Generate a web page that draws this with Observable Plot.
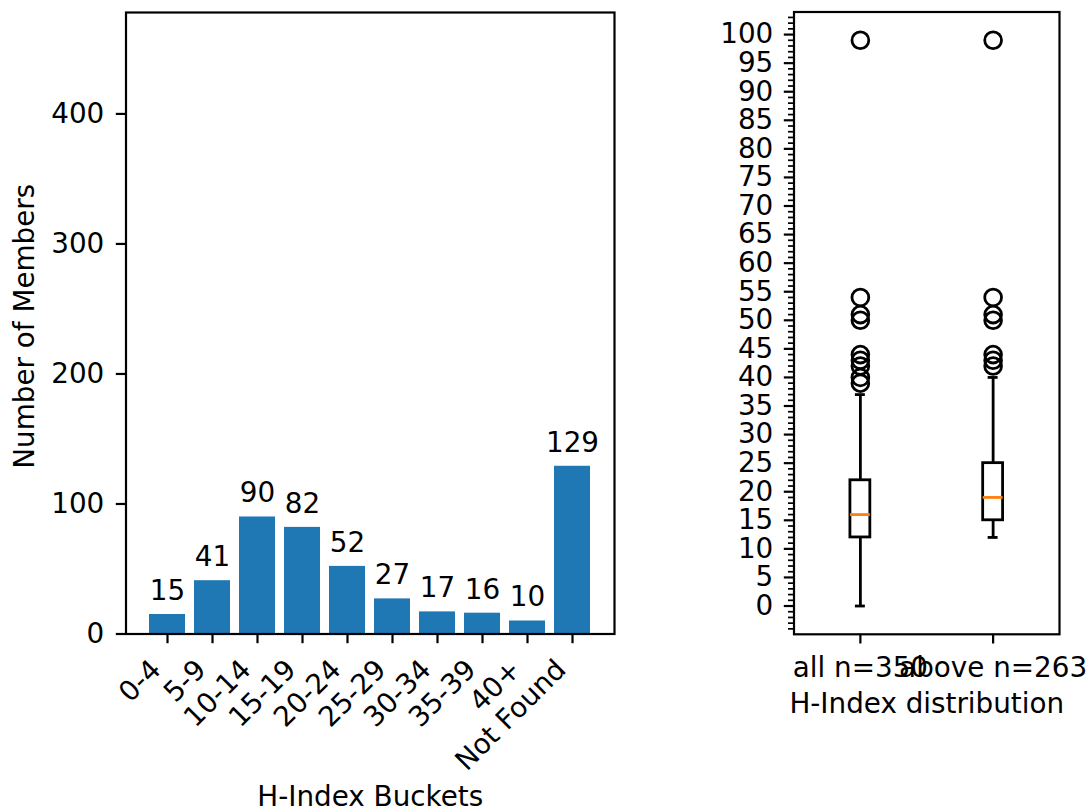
<!DOCTYPE html>
<html><head><meta charset="utf-8">
<script src="https://cdn.jsdelivr.net/npm/d3@7"></script>
<script src="https://cdn.jsdelivr.net/npm/@observablehq/plot@0.6"></script>
<style>
html,body{margin:0;padding:0;background:#fff;}
#wrap{position:relative;width:1090px;height:810px;overflow:hidden;background:#fff;}
#left{position:absolute;left:0;top:0;}
#right{position:absolute;left:700px;top:0;}
</style></head><body>
<div id="wrap"><div id="left"></div><div id="right"></div></div>
<script>
// ---- data ----
const buckets = ["0-4","5-9","10-14","15-19","20-24","25-29","30-34","35-39","40+","Not Found"];
const counts = [15,41,90,82,52,27,17,16,10,129];
const leftYTicks = [0,100,200,300,400];

const boxLabels = ["all n=350","above n=263"];
const boxPositions = [1,2];
const boxQ1 = [12,15];
const boxMedian = [16,19];
const boxQ3 = [22,25];
const whiskerLow = [0,12];
const whiskerHigh = [37,40];
const outliersAll = [39,40,42,43,44,50,51,54,99];
const outliersAbove = [42,43,44,50,51,54,99];
const rightYTicks = [0,5,10,15,20,25,30,35,40,45,50,55,60,65,70,75,80,85,90,95,100];

// ---- styling ----
const FONT = "DejaVu Sans";
const FS = 27.8;
const SPINE = 2.2, TICK = 9.7, MINOR = 5.5, LW = 2.8;
const style = {fontFamily: FONT, fontSize: FS + "px", color: "black", background: "white", overflow: "visible"};

const bars = buckets.map((b, i) => ({bucket: b, count: counts[i]}));

const left = Plot.plot({
  width: 700, height: 810,
  marginLeft: 125.5, marginRight: 86, marginTop: 12, marginBottom: 176.5,
  style,
  x: {type: "band", domain: buckets, paddingInner: 0.2, paddingOuter: 0.49},
  y: {domain: [0, 478]},
  marks: [
    Plot.barY(bars, {x: "bucket", y: "count", fill: "#1f77b4"}),
    Plot.text(bars, {x: "bucket", y: "count", text: d => String(d.count), lineAnchor: "bottom", dy: -14.5, fill: "black"}),
    Plot.text(bars, {x: "bucket", text: "bucket", frameAnchor: "bottom", rotate: -45, textAnchor: "end", lineAnchor: "middle", dx: -11.4, dy: 31, fill: "black"}),
    Plot.axisX({tickSize: TICK, strokeWidth: SPINE, tickFormat: () => "", label: null}),
    Plot.axisY({ticks: leftYTicks, tickSize: TICK, tickPadding: 12, strokeWidth: SPINE, label: null}),
    Plot.frame({stroke: "black", strokeWidth: SPINE}),
    Plot.text(["Number of Members"], {frameAnchor: "left", rotate: -90, textAnchor: "middle", lineAnchor: "bottom", dx: -92, dy: 3, text: d => d, fill: "black"}),
    Plot.text(["H-Index Buckets"], {frameAnchor: "bottom", lineAnchor: "bottom", dy: 171.5, text: d => d, fill: "black"})
  ]
});
document.getElementById("left").appendChild(left);

const boxes = boxLabels.map((l, i) => ({label: l, pos: boxPositions[i], q1: boxQ1[i], med: boxMedian[i], q3: boxQ3[i], lo: whiskerLow[i], hi: whiskerHigh[i]}));
const fliers = [
  ...outliersAll.map(v => ({pos: boxPositions[0], value: v})),
  ...outliersAbove.map(v => ({pos: boxPositions[1], value: v}))
];
const BOXW = 0.15;
const minorTicks = d3.range(-4, 104).filter(d => d % 5 !== 0);

const right = Plot.plot({
  width: 390, height: 810,
  marginLeft: 93.5, marginRight: 31, marginTop: 11.5, marginBottom: 176.2,
  style,
  x: {domain: [0.5, 2.5]},
  y: {domain: [-4.95, 103.95]},
  marks: [
    Plot.ruleX(boxes, {x: "pos", y1: "lo", y2: "q1", stroke: "black", strokeWidth: LW}),
    Plot.ruleX(boxes, {x: "pos", y1: "q3", y2: "hi", stroke: "black", strokeWidth: LW}),
    Plot.ruleY(boxes, {y: "lo", x1: d => d.pos - BOXW / 4, x2: d => d.pos + BOXW / 4, stroke: "black", strokeWidth: LW}),
    Plot.ruleY(boxes, {y: "hi", x1: d => d.pos - BOXW / 4, x2: d => d.pos + BOXW / 4, stroke: "black", strokeWidth: LW}),
    Plot.rect(boxes, {x1: d => d.pos - BOXW / 2, x2: d => d.pos + BOXW / 2, y1: "q1", y2: "q3", fill: "none", stroke: "black", strokeWidth: LW}),
    Plot.ruleY(boxes, {y: "med", x1: d => d.pos - BOXW / 2, x2: d => d.pos + BOXW / 2, stroke: "#ff7f0e", strokeWidth: LW}),
    Plot.dot(fliers, {x: "pos", y: "value", r: 8.4, stroke: "black", strokeWidth: LW, fill: "none"}),
    Plot.axisX({ticks: boxPositions, tickFormat: d => boxLabels[boxPositions.indexOf(d)], tickSize: TICK, tickPadding: 13, strokeWidth: SPINE, label: null}),
    Plot.axisY({ticks: minorTicks, tickSize: MINOR, strokeWidth: 1.7, tickFormat: () => "", label: null}),
    Plot.axisY({ticks: rightYTicks, tickSize: TICK, tickPadding: 11, strokeWidth: SPINE, label: null}),
    Plot.frame({stroke: "black", strokeWidth: SPINE}),
    Plot.text(["H-Index distribution"], {frameAnchor: "bottom", lineAnchor: "bottom", dy: 78.5, text: d => d, fill: "black"})
  ]
});
document.getElementById("right").appendChild(right);
</script>
</body></html>
